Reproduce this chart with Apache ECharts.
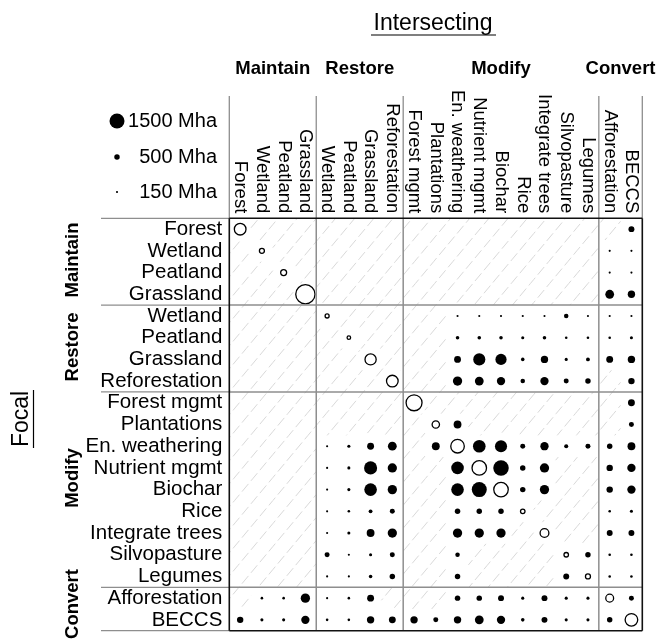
<!DOCTYPE html>
<html>
<head>
<meta charset="utf-8">
<script src="https://cdn.jsdelivr.net/npm/echarts@6/dist/echarts.min.js"></script>
<style>
  html, body { margin: 0; padding: 0; background: #fff; }
  #chart { width: 657px; height: 640px; }
</style>
</head>
<body>
<div id="chart"></div>
<script>
// Strategy names, shared by rows (focal) and columns (intersecting)
const strategies = ['Forest', 'Wetland', 'Peatland', 'Grassland',
  'Wetland', 'Peatland', 'Grassland', 'Reforestation',
  'Forest mgmt', 'Plantations', 'En. weathering', 'Nutrient mgmt', 'Biochar',
  'Rice', 'Integrate trees', 'Silvopasture', 'Legumes',
  'Afforestation', 'BECCS'];
const groupNames = ['Maintain', 'Restore', 'Modify', 'Convert'];
const groupSizes = [4, 4, 9, 2];
const legendValues = [1500, 500, 150];
const legendLabels = ['1500 Mha', '500 Mha', '150 Mha'];

// Overlap area in Mha; one array per focal strategy, columns in strategy order; null = no overlap
const _ = null;
const maintainForest     = [1150, _, _, _,   _, _, _, _,   _, _, _, _, _, _, _, _, _,   _, 550];
const maintainWetland    = [_, 450, _, _,    _, _, _, _,   _, _, _, _, _, _, _, _, _,   150, 150];
const maintainPeatland   = [_, _, 550, _,    _, _, _, _,   _, _, _, _, _, _, _, _, _,   150, 150];
const maintainGrassland  = [_, _, _, 1950,   _, _, _, _,   _, _, _, _, _, _, _, _, _,   850, 700];
const restoreWetland     = [_, _, _, _,   350, _, _, _,    _, _, 150, 150, 150, 150, 150, 400, 150,   150, 150];
const restorePeatland    = [_, _, _, _,   _, 300, _, _,    _, _, 300, 300, 300, 250, 300, 200, 200,   200, 250];
const restoreGrassland   = [_, _, _, _,   _, _, 1100, _,   _, _, 650, 1200, 1100, 300, 700, 250, 330,   650, 700];
const reforestation      = [_, _, _, _,   _, _, _, 1150,   _, _, 900, 850, 800, 400, 800, 450, 500,   _, 600];
const forestMgmt         = [_, _, _, _,   _, _, _, _,   1600, _, _, _, _, _, _, _, _,   _, 650];
const plantations        = [_, _, _, _,   _, _, _, _,   _, 700, 750, _, _, _, _, _, _,   _, 450];
const enWeathering       = [_, _, _, _,   150, 250, 650, 850,   _, 750, 1350, 1250, 1200, 450, 800, 350, 450,   500, 750];
const nutrientMgmt       = [_, _, _, _,   150, 250, 1300, 900,   _, _, 1250, 1450, 1550, 500, 900, _, _,   600, 800];
const biochar            = [_, _, _, _,   150, 250, 1250, 900,   _, _, 1250, 1500, 1450, 500, 900, _, _,   600, 800];
const rice               = [_, _, _, _,   150, 200, 330, 450,   _, _, 500, 500, 500, 400, _, _, _,   200, 250];
const integrateTrees     = [_, _, _, _,   150, 250, 750, 900,   _, _, 900, 900, 900, _, 850, _, _,   550, 550];
const silvopasture       = [_, _, _, _,   450, 150, 250, 450,   _, _, 400, _, _, _, _, 400, 500,   200, 200];
const legumes            = [_, _, _, _,   150, 150, 300, 500,   _, _, 500, _, _, _, _, 550, 450,   200, 200];
const afforestation      = [_, 200, 200, 900,   150, 200, 650, _,   _, _, 500, 500, 550, 250, 550, 250, 250,   750, 450];
const beccs              = [600, 250, 250, 800,   200, 200, 700, 650,   700, 450, 700, 850, 800, 300, 550, 250, 250,   500, 1250];

const focalRows = [maintainForest, maintainWetland, maintainPeatland, maintainGrassland,
  restoreWetland, restorePeatland, restoreGrassland, reforestation,
  forestMgmt, plantations, enWeathering, nutrientMgmt, biochar, rice,
  integrateTrees, silvopasture, legumes, afforestation, beccs];

// Marker diameter (px) grows linearly with area
const sizeOf = v => 0.7 + v / 105;

const filled = [], open = [], empty = [];
focalRows.forEach((row, r) => row.forEach((v, c) => {
  if (v == null) empty.push([c, r]);
  else if (c === r) open.push([c, r, v]);
  else filled.push([c, r, v]);
}));

const FONT = '"Liberation Sans", Arial, Helvetica, sans-serif';
const GRID = { left: 229.3, top: 218.3, width: 413, height: 412.4 };
const idx = strategies.map((s, i) => String(i));

// Diagonal dashed hatching for cells without overlap
const HATCH_SLOPE = 1.2, HATCH_STEP = 23, DASH = [10, 4];
function hatchCell(params, api) {
  const c = api.coord([api.value(0), api.value(1)]);
  const s = api.size([1, 1]);
  const x0 = c[0] - s[0] / 2, x1 = c[0] + s[0] / 2;
  const y0 = c[1] - s[1] / 2, y1 = c[1] + s[1] / 2;
  const L = Math.sqrt(1 + HATCH_SLOPE * HATCH_SLOPE);
  const period = DASH[0] + DASH[1];
  const children = [];
  const cMin = y0 + HATCH_SLOPE * x0, cMax = y1 + HATCH_SLOPE * x1;
  for (let k = Math.ceil(cMin / HATCH_STEP); k * HATCH_STEP <= cMax; k++) {
    const cc = k * HATCH_STEP;
    const xa = Math.max(x0, (cc - y1) / HATCH_SLOPE);
    const xb = Math.min(x1, (cc - y0) / HATCH_SLOPE);
    if (xb - xa < 0.3) continue;
    children.push({
      type: 'line',
      shape: { x1: xa, y1: cc - HATCH_SLOPE * xa, x2: xb, y2: cc - HATCH_SLOPE * xb },
      style: { stroke: '#d9d9d9', lineWidth: 1, lineDash: DASH, lineDashOffset: (xa * L) % period },
      silent: true
    });
  }
  return { type: 'group', children };
}

const chart = echarts.init(document.getElementById('chart'), null, { renderer: 'canvas' });
chart.setOption({
  animation: false,
  backgroundColor: '#fff',
  grid: GRID,
  xAxis: {
    type: 'category', position: 'top', data: idx,
    axisLine: { show: false }, axisTick: { show: false }, splitLine: { show: false },
    axisLabel: {
      rotate: 90, margin: 5, interval: 0, color: '#000', fontSize: 18.5, fontFamily: FONT,
      formatter: v => strategies[+v]
    }
  },
  yAxis: {
    type: 'category', inverse: true, data: idx,
    axisLine: { show: false }, axisTick: { show: false }, splitLine: { show: false },
    axisLabel: {
      margin: 7, interval: 0, color: '#000', fontSize: 20.5, fontFamily: FONT,
      formatter: v => strategies[+v]
    }
  },
  series: [
    { type: 'custom', data: empty, renderItem: hatchCell, silent: true, z: 1 },
    {
      type: 'scatter', data: filled, symbol: 'circle',
      symbolSize: d => sizeOf(d[2]),
      itemStyle: { color: '#000', opacity: 1 }, z: 3
    },
    {
      type: 'scatter', data: open, symbol: 'circle',
      symbolSize: d => sizeOf(d[2]),
      itemStyle: { color: 'rgba(255,255,255,0)', borderColor: '#000', borderWidth: 1.3, opacity: 1 }, z: 3
    }
  ]
});

// Frame, group separators, headings and size legend
const px = (c, r) => chart.convertToPixel({ gridIndex: 0 }, [c, r]);
const cellW = px(1, 0)[0] - px(0, 0)[0];
const cellH = px(0, 1)[1] - px(0, 0)[1];
const edgeX = i => px(0, 0)[0] + (i - 0.5) * cellW;
const edgeY = i => px(0, 0)[1] + (i - 0.5) * cellH;

const bounds = [0];
groupSizes.forEach(n => bounds.push(bounds[bounds.length - 1] + n));
const N = strategies.length;
const X0 = edgeX(0), XN = edgeX(N), Y0 = edgeY(0), YN = edgeY(N);
const GRAY = '#8e8e8e';
const g = [];
const line = (x1, y1, x2, y2, stroke, w) => g.push({
  type: 'line', shape: { x1, y1, x2, y2 }, style: { stroke, lineWidth: w }, z: 5
});

// interior group separators
bounds.slice(1, -1).forEach(b => {
  line(edgeX(b), Y0, edgeX(b), YN, GRAY, 1.5);
  line(X0, edgeY(b), XN, edgeY(b), GRAY, 1.5);
});
// header and label-area extensions
bounds.forEach(b => {
  line(edgeX(b), 96, edgeX(b), Y0, GRAY, 1.3);
  line(101, edgeY(b), X0, edgeY(b), GRAY, 1.3);
});
// outer frame
line(X0, Y0, XN, Y0, '#111', 1.6);
line(X0, YN, XN, YN, '#111', 1.6);
line(X0, Y0, X0, YN, '#111', 1.6);
line(XN, Y0, XN, YN, '#111', 1.6);

// group headings
groupNames.forEach((name, i) => {
  const cx = (edgeX(bounds[i]) + edgeX(bounds[i + 1])) / 2;
  g.push({ type: 'text', x: cx, y: 69, z: 6,
    style: { text: name, font: 'bold 18.5px ' + FONT, fill: '#000', align: 'center', verticalAlign: 'middle' } });
});
const leftGroupY = [260, 347, 478, 604];
groupNames.forEach((name, i) => {
  g.push({ type: 'text', x: 72.5, y: leftGroupY[i], rotation: Math.PI / 2, z: 6,
    style: { text: name, font: 'bold 18.5px ' + FONT, fill: '#000', align: 'center', verticalAlign: 'middle' } });
});

// axis titles with underline
g.push({ type: 'text', x: 433, y: 24, z: 6,
  style: { text: 'Intersecting', font: '23px ' + FONT, fill: '#000', align: 'center', verticalAlign: 'middle' } });
line(371, 35, 496, 35, '#000', 1.2);
g.push({ type: 'text', x: 22, y: 419, rotation: Math.PI / 2, z: 6,
  style: { text: 'Focal', font: '23px ' + FONT, fill: '#000', align: 'center', verticalAlign: 'middle' } });
line(33.5, 390, 33.5, 448, '#000', 1.2);

// size legend
const legendY = [121, 157, 192];
legendValues.forEach((v, i) => {
  g.push({ type: 'circle', shape: { cx: 117, cy: legendY[i], r: sizeOf(v) / 2 }, style: { fill: '#000' }, z: 6 });
  g.push({ type: 'text', x: 217, y: legendY[i], z: 6,
    style: { text: legendLabels[i], font: '20px ' + FONT, fill: '#000', align: 'right', verticalAlign: 'middle' } });
});

chart.setOption({ graphic: g });
</script>
</body>
</html>
